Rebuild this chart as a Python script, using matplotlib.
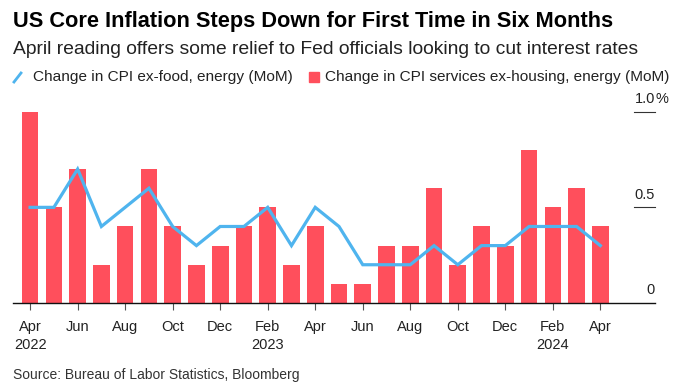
import matplotlib.pyplot as plt
import numpy as np

plt.rcParams['font.family'] = ['Liberation Sans', 'DejaVu Sans']

# monthly data, Apr 2022 - Apr 2024
months = ["Apr", "May", "Jun", "Jul", "Aug", "Sep", "Oct", "Nov", "Dec", "Jan", "Feb", "Mar",
          "Apr", "May", "Jun", "Jul", "Aug", "Sep", "Oct", "Nov", "Dec", "Jan", "Feb", "Mar", "Apr"]
years = {0: "2022", 10: "2023", 22: "2024"}
core_cpi = [0.5, 0.5, 0.7, 0.4, 0.5, 0.6, 0.4, 0.3, 0.4, 0.4, 0.5, 0.3,
            0.5, 0.4, 0.2, 0.2, 0.2, 0.3, 0.2, 0.3, 0.3, 0.4, 0.4, 0.4, 0.3]
supercore = [1.0, 0.5, 0.7, 0.2, 0.4, 0.7, 0.4, 0.2, 0.3, 0.4, 0.5, 0.2,
             0.4, 0.1, 0.1, 0.3, 0.3, 0.6, 0.2, 0.4, 0.3, 0.8, 0.5, 0.6, 0.4]
y_ticks = [0, 0.5, 1.0]
y_labels = ["0", "0.5", "1.0"]

red = "#ff4f5c"
blue = "#4fb4ee"

fig = plt.figure(figsize=(6.87, 3.87), dpi=100)
ax = fig.add_axes([13 / 687, 1 - 303 / 387, (655 - 13) / 687, 200 / 387])

x = np.arange(len(months))
ax.bar(x, supercore, width=0.7, color=red, zorder=2)
ax.plot(x, core_cpi, color=blue, linewidth=2.3, zorder=3, solid_joinstyle="miter")

ax.set_xlim(-0.72, 26.3)
ax.set_ylim(0, 200 / 191.3)

# short right-hand gridlines with labels above them
for t, lab in zip(y_ticks, y_labels):
    if t > 0:
        ax.plot([25.4, 26.3], [t, t], color="#333333", linewidth=0.8, clip_on=False)
    ax.text(26.3, t + 0.03, lab, ha="right", va="bottom", fontsize=10.5, color="#222222")
ax.text(26.3, 1.0 + 0.03, "%", ha="left", va="bottom", fontsize=10.5, color="#222222")

for side in ["top", "right", "left"]:
    ax.spines[side].set_visible(False)
ax.spines["bottom"].set_color("#111111")
ax.spines["bottom"].set_linewidth(1.0)
ax.set_yticks([])

tick_pos = x[::2]
labels = []
for i in tick_pos:
    lab = months[i]
    if i in years:
        lab += "\n" + years[i]
    labels.append(lab)
ax.set_xticks(tick_pos)
ax.set_xticklabels(labels, fontsize=10.5, color="#222222", linespacing=1.35, va="top")
ax.tick_params(axis="x", length=5, width=0.8, color="#555555", pad=7)

fig.text(13 / 687, 1 - 22 / 387, "US Core Inflation Steps Down for First Time in Six Months",
         fontsize=15.7, fontweight="bold", va="center", ha="left", color="#000000")
fig.text(13 / 687, 1 - 50 / 387, "April reading offers some relief to Fed officials looking to cut interest rates",
         fontsize=13.9, va="center", ha="left", color="#222222")

# legend
fig.add_artist(plt.Line2D([14 / 687, 21 / 687], [1 - 82 / 387, 1 - 73 / 387], color=blue, linewidth=2))
fig.text(33 / 687, 1 - 77 / 387, "Change in CPI ex-food, energy (MoM)", fontsize=11.1,
         va="center", ha="left", color="#222222")
fig.add_artist(plt.Rectangle((309 / 687, 1 - 82 / 387), 10 / 687, 10 / 387, color=red))
fig.text(325 / 687, 1 - 77 / 387, "Change in CPI services ex-housing, energy (MoM)", fontsize=11.1,
         va="center", ha="left", color="#222222")

fig.text(13 / 687, 1 - 375 / 387, "Source: Bureau of Labor Statistics, Bloomberg",
         fontsize=10, va="center", ha="left", color="#333333")

fig.savefig("out.png", dpi=100)
